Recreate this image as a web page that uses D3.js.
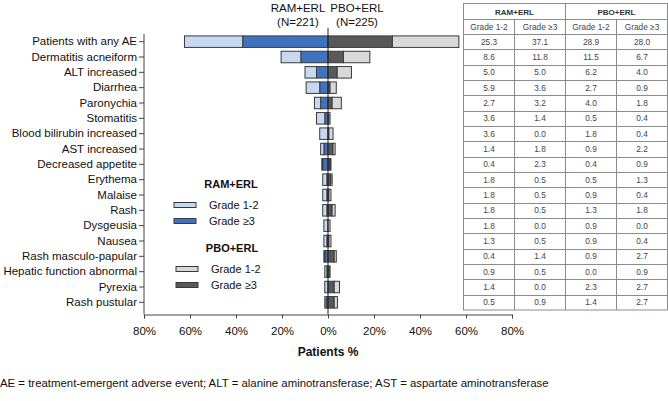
<!DOCTYPE html>
<html>
<head>
<meta charset="utf-8">
<script src="https://cdn.jsdelivr.net/npm/d3@7"></script>
<style>
  body { margin: 0; background: #fff; }
  svg { display: block; font-family: "Liberation Sans", Arial, sans-serif; }
</style>
</head>
<body>
<svg id="chart" width="668" height="401"></svg>
<script>
const categories = ["Patients with any AE", "Dermatitis acneiform", "ALT increased", "Diarrhea", "Paronychia",
  "Stomatitis", "Blood bilirubin increased", "AST increased", "Decreased appetite", "Erythema", "Malaise",
  "Rash", "Dysgeusia", "Nausea", "Rash masculo-papular", "Hepatic function abnormal", "Pyrexia", "Rash pustular"];
const ramGrade12 = [25.3, 8.6, 5.0, 5.9, 2.7, 3.6, 3.6, 1.4, 0.4, 1.8, 1.8, 1.8, 1.8, 1.3, 0.4, 0.9, 1.4, 0.5];
const ramGrade3  = [37.1, 11.8, 5.0, 3.6, 3.2, 1.4, 0.0, 1.8, 2.3, 0.5, 0.5, 0.5, 0.0, 0.5, 1.4, 0.5, 0.0, 0.9];
const pboGrade12 = [28.9, 11.5, 6.2, 2.7, 4.0, 0.5, 1.8, 0.9, 0.4, 0.5, 0.9, 1.3, 0.9, 0.9, 0.9, 0.0, 2.3, 1.4];
const pboGrade3  = [28.0, 6.7, 4.0, 0.9, 1.8, 0.4, 0.4, 2.2, 0.9, 1.3, 0.4, 1.8, 0.0, 0.4, 2.7, 0.9, 2.7, 2.7];
const xTicks = [-80, -60, -40, -20, 0, 20, 40, 60, 80];
const groupLabels = ["RAM+ERL", "PBO+ERL"];
const groupN = ["(N=221)", "(N=225)"];
const gradeLabels = ["Grade 1-2", "Grade \u22653"];
const footnote = "AE = treatment-emergent adverse event; ALT = alanine aminotransferase; AST = aspartate aminotransferase";

const colors = { ram12: "#c6d9f1", ram3: "#3f72bf", pbo12: "#d9d9d9", pbo3: "#595959" };
const strokeCol = "#3a3a3a";

const svg = d3.select("#chart");

const x = d3.scaleLinear().domain([-80, 80]).range([144, 512]);
const y = d3.scaleBand().domain(categories).range([34, 310]).paddingInner(0.25).paddingOuter(0.125);

// bars
const rows = categories.map((c, i) => ({ c, r12: ramGrade12[i], r3: ramGrade3[i], p12: pboGrade12[i], p3: pboGrade3[i] }));
const segs = [];
rows.forEach(d => {
  segs.push({ c: d.c, x0: -d.r3, x1: 0, fill: colors.ram3 });
  segs.push({ c: d.c, x0: -(d.r3 + d.r12), x1: -d.r3, fill: colors.ram12 });
  segs.push({ c: d.c, x0: 0, x1: d.p3, fill: colors.pbo3 });
  segs.push({ c: d.c, x0: d.p3, x1: d.p3 + d.p12, fill: colors.pbo12 });
});
svg.append("g").selectAll("rect").data(segs.filter(s => s.x1 - s.x0 > 0)).join("rect")
  .attr("x", s => x(s.x0))
  .attr("width", s => x(s.x1) - x(s.x0))
  .attr("y", s => y(s.c))
  .attr("height", y.bandwidth())
  .attr("fill", s => s.fill)
  .attr("stroke", strokeCol)
  .attr("stroke-width", 1);

// center line
svg.append("line").attr("x1", x(0)).attr("x2", x(0)).attr("y1", 28).attr("y2", 314.5)
  .attr("stroke", "#222").attr("stroke-width", 1);

// y axis
const yAxis = svg.append("g").attr("transform", `translate(${x(-80)},0)`)
  .call(d3.axisLeft(y).tickSize(5).tickPadding(2));
yAxis.select(".domain").attr("d", `M0,34V314.5`).attr("stroke", "#444");
yAxis.selectAll(".tick line").attr("stroke", "#444");
yAxis.selectAll("text").attr("font-size", 11.5).attr("fill", "#111").attr("font-family", "Liberation Sans, Arial, sans-serif");

// x axis
const xAxis = svg.append("g").attr("transform", "translate(0,314.5)")
  .call(d3.axisBottom(x).tickValues(xTicks).tickSize(4).tickPadding(8).tickFormat(d => Math.abs(d) + "%"));
xAxis.select(".domain").attr("stroke", "#444");
xAxis.selectAll(".tick line").attr("stroke", "#444");
xAxis.selectAll("text").attr("font-size", 11.5).attr("fill", "#111").attr("font-family", "Liberation Sans, Arial, sans-serif");

svg.append("text").attr("x", x(0)).attr("y", 356).attr("text-anchor", "middle")
  .attr("font-size", 12).attr("font-weight", "bold").attr("fill", "#111").text("Patients %");

// group headers
[[298, 0], [357, 1]].forEach(([cx, i]) => {
  svg.append("text").attr("x", cx).attr("y", 12).attr("text-anchor", "middle").attr("font-size", 11.5).attr("fill", "#111").text(groupLabels[i]);
  svg.append("text").attr("x", cx).attr("y", 26).attr("text-anchor", "middle").attr("font-size", 11.5).attr("fill", "#111").text(groupN[i]);
});

// legend
const legend = [
  { title: groupLabels[0], tx: 231, ty: 188, items: [{ c: colors.ram12, y: 205 }, { c: colors.ram3, y: 221 }], sx: 174, lx: 209 },
  { title: groupLabels[1], tx: 232, ty: 252, items: [{ c: colors.pbo12, y: 269 }, { c: colors.pbo3, y: 285 }], sx: 176, lx: 211 }
];
legend.forEach(g => {
  svg.append("text").attr("x", g.tx).attr("y", g.ty).attr("text-anchor", "middle").attr("font-size", 11)
    .attr("font-weight", "bold").attr("fill", "#111").text(g.title);
  g.items.forEach((it, k) => {
    svg.append("rect").attr("x", g.sx).attr("y", it.y - 2.5).attr("width", 22).attr("height", 5)
      .attr("fill", it.c).attr("stroke", strokeCol).attr("stroke-width", 1);
    svg.append("text").attr("x", g.lx).attr("y", it.y + 4).attr("font-size", 11).attr("fill", "#111").text(gradeLabels[k]);
  });
});

// table
const colX = [463.5, 514.5, 565.5, 616.5, 667.5];
const tbl = svg.append("g");
const gridCol = "#8c8c8c";
tbl.append("rect").attr("x", colX[0]).attr("y", 3.5).attr("width", colX[4] - colX[0]).attr("height", 310 - 3.5)
  .attr("fill", "none").attr("stroke", gridCol);
tbl.append("line").attr("x1", colX[2]).attr("x2", colX[2]).attr("y1", 3.5).attr("y2", 310).attr("stroke", gridCol);
[1, 3].forEach(k => tbl.append("line").attr("x1", colX[k]).attr("x2", colX[k]).attr("y1", 19.5).attr("y2", 310).attr("stroke", gridCol));
tbl.append("line").attr("x1", colX[0]).attr("x2", colX[4]).attr("y1", 19.5).attr("y2", 19.5).attr("stroke", gridCol);
categories.forEach(c => {
  const yy = Math.round(y(c) - y.step() * y.paddingInner() / 2) + 0.5;
  tbl.append("line").attr("x1", colX[0]).attr("x2", colX[4]).attr("y1", yy).attr("y2", yy).attr("stroke", gridCol);
});
groupLabels.forEach((g, i) => {
  tbl.append("text").attr("x", (colX[2 * i] + colX[2 * i + 2]) / 2).attr("y", 14.5).attr("text-anchor", "middle")
    .attr("font-size", 8).attr("font-weight", "bold").attr("fill", "#333").text(g);
  gradeLabels.forEach((gl, k) => {
    tbl.append("text").attr("x", (colX[2 * i + k] + colX[2 * i + k + 1]) / 2).attr("y", 30).attr("text-anchor", "middle")
      .attr("font-size", 8.3).attr("fill", "#444").text(gl);
  });
});
const cols = [ramGrade12, ramGrade3, pboGrade12, pboGrade3];
categories.forEach((c, i) => {
  cols.forEach((arr, k) => {
    tbl.append("text").attr("x", (colX[k] + colX[k + 1]) / 2).attr("y", y(c) + y.bandwidth() / 2 + 3)
      .attr("text-anchor", "middle").attr("font-size", 8.3).attr("fill", "#444").text(arr[i].toFixed(1));
  });
});

// footnote
svg.append("text").attr("x", 0).attr("y", 387).attr("font-size", 11.4).attr("fill", "#111").text(footnote);
</script>
</body>
</html>
